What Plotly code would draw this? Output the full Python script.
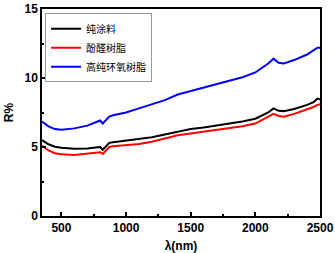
import plotly.graph_objects as go

wl = [350, 400, 450, 500, 600, 700, 780, 800, 820, 850, 870, 900, 1000, 1100, 1200, 1300, 1400,
      1500, 1600, 1700, 1800, 1900, 2000, 2050, 2100, 2140, 2180, 2220, 2300, 2400, 2450, 2480, 2500]
pure = [5.5, 5.2, 5.02, 4.95, 4.88, 4.9, 4.98, 5.0, 4.8, 5.1, 5.3, 5.35, 5.45, 5.55, 5.7, 5.9, 6.12,
        6.3, 6.42, 6.55, 6.68, 6.85, 7.05, 7.3, 7.5, 7.8, 7.62, 7.6, 7.75, 8.05, 8.25, 8.5, 8.45]
phenolic = [5.1, 4.75, 4.55, 4.47, 4.42, 4.5, 4.6, 4.62, 4.5, 4.8, 5.0, 5.05, 5.12, 5.22, 5.38, 5.6, 5.85,
            5.98, 6.1, 6.22, 6.35, 6.5, 6.7, 6.95, 7.15, 7.4, 7.25, 7.2, 7.4, 7.7, 7.9, 8.05, 8.1]
epoxy = [6.85, 6.5, 6.3, 6.25, 6.35, 6.55, 6.85, 6.92, 6.7, 7.0, 7.2, 7.3, 7.5, 7.8, 8.1, 8.4, 8.8,
         9.05, 9.3, 9.55, 9.8, 10.05, 10.4, 10.75, 11.05, 11.4, 11.1, 11.05, 11.3, 11.7, 12.0, 12.2, 12.2]

names = ["纯涂料", "酚醛树脂", "高纯环氧树脂"]
colors = ["#000000", "#ff0000", "#0000ff"]

fig = go.Figure()
for name, ys, c in zip(names, [pure, phenolic, epoxy], colors):
    fig.add_trace(go.Scatter(x=wl, y=ys, mode="lines", name=name,
                             line=dict(color=c, width=2)))

tick_font = dict(family="Liberation Sans, Arial", size=12, color="black", weight="bold")
fig.update_layout(
    width=335, height=253,
    margin=dict(l=42, r=15, t=9, b=37, autoexpand=False),
    paper_bgcolor="white", plot_bgcolor="white",
    showlegend=True,
    legend=dict(x=0.011, y=0.98, xanchor="left", yanchor="top",
                bgcolor="white", bordercolor="#999999", borderwidth=1,
                font=dict(family="Noto Sans CJK SC", size=10, color="black"),
                tracegroupgap=0, itemwidth=30),
    xaxis=dict(range=[350, 2500], tickvals=[500, 1000, 1500, 2000, 2500],
               ticks="inside", ticklen=4, tickwidth=1.5, tickcolor="black",
               minor=dict(tickvals=[750, 1250, 1750, 2250], ticks="inside", ticklen=2, tickcolor="black"),
               showline=True, linecolor="black", linewidth=1.5, mirror=True,
               showgrid=False, zeroline=False, automargin=False,
               tickfont=tick_font,
               title=dict(text="<b>λ(nm)</b>", font=dict(family="Liberation Sans, Arial", size=12, color="black"), standoff=8)),
    yaxis=dict(range=[0, 15], tickvals=[0, 5, 10, 15],
               ticks="inside", ticklen=4, tickwidth=1.5, tickcolor="black",
               minor=dict(tickvals=[2.5, 7.5, 12.5], ticks="inside", ticklen=2, tickcolor="black"),
               showline=True, linecolor="black", linewidth=1.5, mirror=True,
               showgrid=False, zeroline=False, automargin=False,
               tickfont=tick_font,
               title=dict(text="<b>R%</b>", font=dict(family="Liberation Sans, Arial", size=12, color="black"), standoff=8)),
)
fig.write_html("out.html", config={"displayModeBar": False},
               post_script="document.body.style.margin='0';")
